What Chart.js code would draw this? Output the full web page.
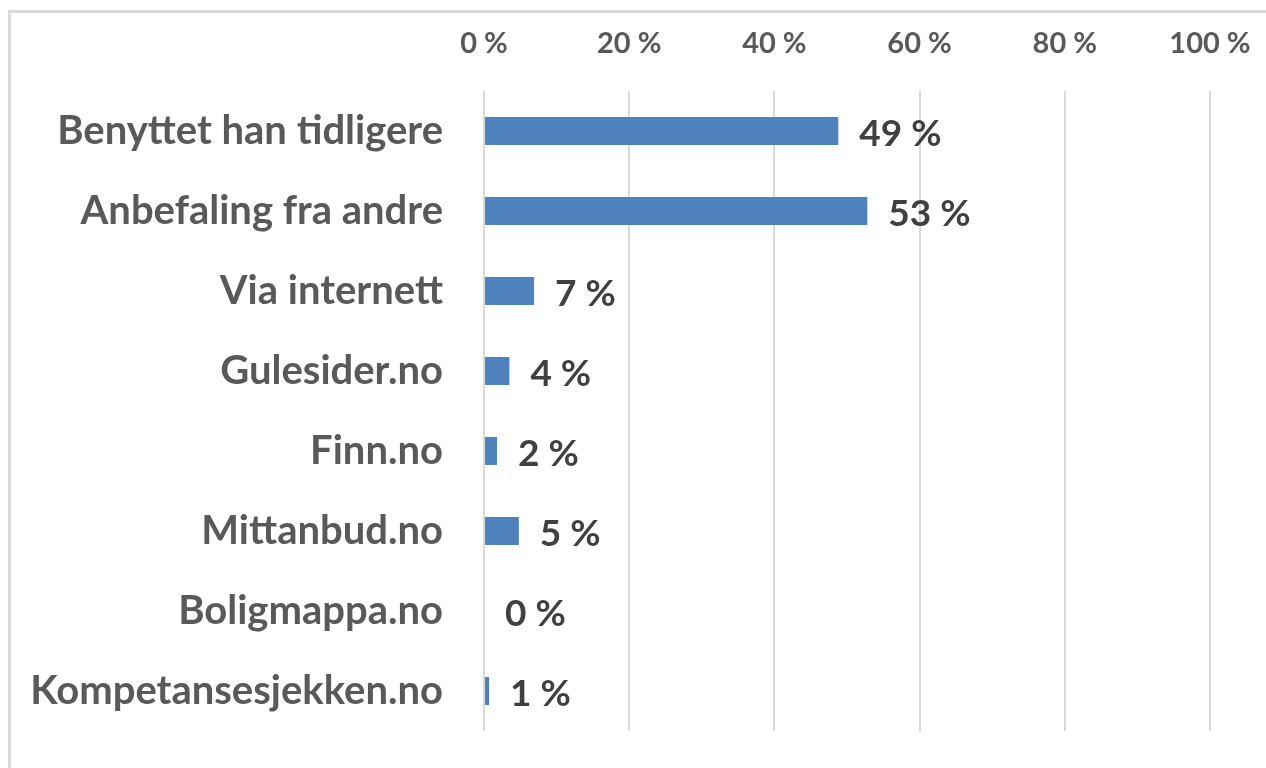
<!DOCTYPE html>
<html>
<head>
<meta charset="utf-8">
<script src="https://cdn.jsdelivr.net/npm/chart.js@4/dist/chart.umd.min.js"></script>
<style>
  html, body { margin: 0; padding: 0; background: #fff; }
  #wrap { position: relative; width: 1266px; height: 768px; overflow: hidden; }
  #frame { position: absolute; left: 8px; top: 10px; width: 1300px; height: 800px;
           border-left: 3px solid #d9d9d9; border-top: 3px solid #d9d9d9; }
  canvas { position: absolute; left: 0; top: 0; }
</style>
</head>
<body>
<div id="wrap">
  <div id="frame"></div>
  <canvas id="chart" width="1266" height="768"></canvas>
</div>
<script>
// Kategorier og verdier (prosent)
const categories = [
  'Benyttet han tidligere',
  'Anbefaling fra andre',
  'Via internett',
  'Gulesider.no',
  'Finn.no',
  'Mittanbud.no',
  'Boligmappa.no',
  'Kompetansesjekken.no'
];
const values = [48.8, 52.8, 6.9, 3.5, 1.8, 4.8, 0, 0.7];
const tickValues = [0, 20, 40, 60, 80, 100];

const FONT = 'Lato, "Open Sans", sans-serif';

// Tekst for verdiene ved enden av stolpene
const valueLabels = {
  id: 'valueLabels',
  afterDatasetsDraw(chart) {
    const ctx = chart.ctx;
    const meta = chart.getDatasetMeta(0);
    ctx.save();
    ctx.font = 'bold 37px ' + FONT;
    ctx.fillStyle = '#404040';
    ctx.textAlign = 'left';
    ctx.textBaseline = 'middle';
    meta.data.forEach((bar, i) => {
      ctx.fillText(Math.round(values[i]) + ' %', bar.x + 21, bar.y + 3);
    });
    ctx.restore();
  }
};

new Chart(document.getElementById('chart').getContext('2d'), {
  type: 'bar',
  data: {
    labels: categories,
    datasets: [{
      data: values,
      backgroundColor: '#4f81bd',
      barPercentage: 0.7,
      categoryPercentage: 0.5
    }]
  },
  options: {
    indexAxis: 'y',
    responsive: false,
    animation: false,
    layout: { padding: { left: 0, right: 56, top: 0, bottom: 37 } },
    plugins: { legend: { display: false }, tooltip: { enabled: false } },
    scales: {
      x: {
        position: 'top',
        min: 0,
        max: 100,
        afterBuildTicks(scale) {
          scale.ticks = tickValues.map(v => ({ value: v }));
        },
        afterFit(scale) {
          scale.height = 91;
          scale.paddingLeft = 0;
          scale.paddingRight = 0;
        },
        ticks: {
          callback: v => v + ' %',
          color: '#595959',
          font: { family: FONT, size: 29, weight: 'bold' },
          padding: 30,
          maxRotation: 0
        },
        grid: { color: '#d9d9d9', lineWidth: 2, drawTicks: false },
        border: { display: false }
      },
      y: {
        afterFit(scale) {
          scale.width = 484;
          scale.paddingTop = 0;
          scale.paddingBottom = 0;
        },
        ticks: {
          color: '#595959',
          font: { family: FONT, size: 40, weight: 'bold' },
          padding: 33
        },
        grid: { display: false },
        border: { display: false }
      }
    }
  },
  plugins: [valueLabels]
});
</script>
</body>
</html>
